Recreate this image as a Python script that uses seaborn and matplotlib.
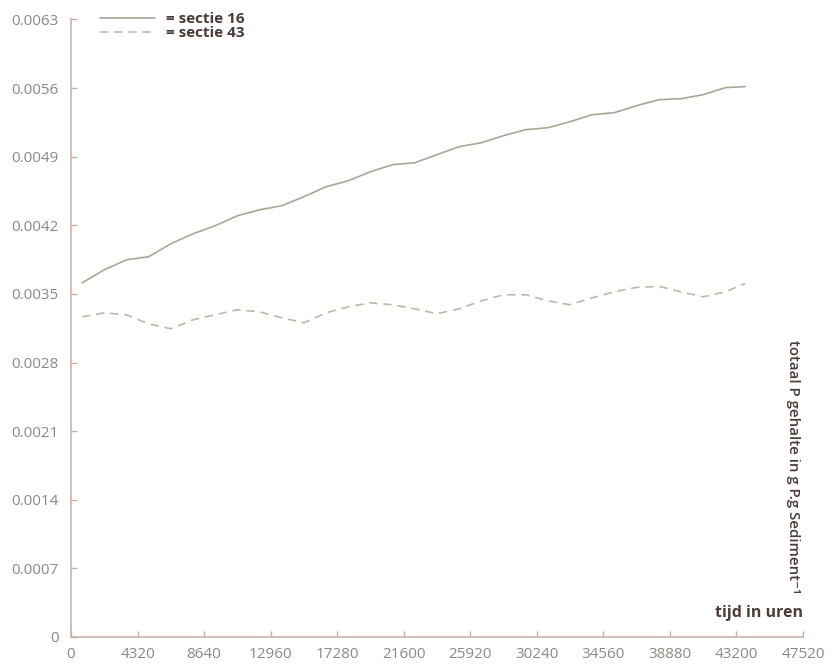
import numpy as np
import pandas as pd
import matplotlib
matplotlib.use("Agg")
import matplotlib.pyplot as plt
import seaborn as sns

# Tijd (uren) en totaal P gehalte per sectie
tijd = [720, 2160, 3600, 5040, 6480, 7920, 9360, 10800, 12240, 13680, 15120,
        16560, 18000, 19440, 20880, 22320, 23760, 25200, 26640, 28080, 29520,
        30960, 32400, 33840, 35280, 36720, 38160, 39600, 41040, 42480, 43760]

sectie_16 = [0.003613, 0.003746, 0.003848, 0.003879, 0.004011, 0.004113, 0.004195,
             0.004297, 0.004358, 0.004399, 0.004491, 0.004593, 0.004654, 0.004746,
             0.004818, 0.004838, 0.004920, 0.005002, 0.005042, 0.005114, 0.005175,
             0.005195, 0.005257, 0.005328, 0.005349, 0.005420, 0.005481, 0.005491,
             0.005532, 0.005604, 0.005614]

sectie_43 = [0.003266, 0.003307, 0.003287, 0.003195, 0.003144, 0.003236, 0.003287,
             0.003338, 0.003317, 0.003256, 0.003205, 0.003307, 0.003368, 0.003409,
             0.003389, 0.003348, 0.003297, 0.003348, 0.003429, 0.003491, 0.003491,
             0.003429, 0.003389, 0.003460, 0.003521, 0.003567, 0.003577, 0.003521,
             0.003470, 0.003521, 0.003605]

labels = ["= sectie 16", "= sectie 43"]
x_ticks = [0, 4320, 8640, 12960, 17280, 21600, 25920, 30240, 34560, 38880, 43200, 47520]
y_ticks = [0, 0.0007, 0.0014, 0.0021, 0.0028, 0.0035, 0.0042, 0.0049, 0.0056, 0.0063]
y_ticklabels = ["0", "0.0007", "0.0014", "0.0021", "0.0028", "0.0035",
                "0.0042", "0.0049", "0.0056", "0.0063"]

df = pd.DataFrame({
    "tijd": tijd * 2,
    "P": sectie_16 + sectie_43,
    "sectie": [labels[0]] * len(tijd) + [labels[1]] * len(tijd),
})

sns.set_theme(style="white")
plt.rcParams["font.family"] = ["Open Sans", "DejaVu Sans"]

axis_col = "#c9aea4"
tick_col = "#8e8882"
text_col = "#4b3c36"
col_16 = "#aca696"
col_43 = "#bdb8a6"

fig = plt.figure(figsize=(8.32, 6.69), dpi=100)
ax = fig.add_axes([71 / 832, 1 - 637 / 669, (803 - 71) / 832, (637 - 19.4) / 669])

sns.lineplot(data=df, x="tijd", y="P", hue="sectie", style="sectie",
             palette=[col_16, col_43],
             dashes=[(None, None), (5, 3.5)], linewidth=1.2, ax=ax, legend=False)

ax.set_xlim(0, 47520)
ax.set_ylim(0, 0.0063)
ax.set_xticks(x_ticks)
ax.set_xticklabels([str(t) for t in x_ticks])
ax.set_yticks(y_ticks)
ax.set_yticklabels(y_ticklabels)
ax.set_xlabel("")
ax.set_ylabel("")

for side in ["top", "right"]:
    ax.spines[side].set_visible(False)
for side in ["left", "bottom"]:
    ax.spines[side].set_color(axis_col)
    ax.spines[side].set_linewidth(1.1)

ax.tick_params(axis="both", direction="in", length=4, width=1, color=axis_col,
               labelsize=11, labelcolor=tick_col, left=True, bottom=True)
ax.tick_params(axis="y", pad=9)
ax.tick_params(axis="x", pad=7)

# legenda met lijnvoorbeelden
handles = [
    plt.Line2D([], [], color=col_16, lw=1.2),
    plt.Line2D([], [], color=col_43, lw=1.2, dashes=(5, 3.5)),
]
leg = ax.legend(handles, labels, loc="upper left",
                bbox_to_anchor=(100 / 832, 1 - 12 / 669), bbox_transform=fig.transFigure,
                frameon=False, handlelength=3.6, handletextpad=0.7,
                labelspacing=0.0, borderpad=0, borderaxespad=0,
                prop={"size": 11, "weight": "bold"})
for t in leg.get_texts():
    t.set_color(text_col)

fig.text(803 / 832, 1 - 613 / 669, "tijd in uren", ha="right", va="center",
         fontsize=11.5, fontweight="bold", color=text_col)
fig.text(793 / 832, 1 - 467 / 669, "totaal P gehalte in g P.g Sediment\u207b\u00b9",
         rotation=-90, ha="center", va="center", fontsize=10.8,
         fontweight="semibold", color=text_col)

fig.savefig("out.png", dpi=100, facecolor="white")
